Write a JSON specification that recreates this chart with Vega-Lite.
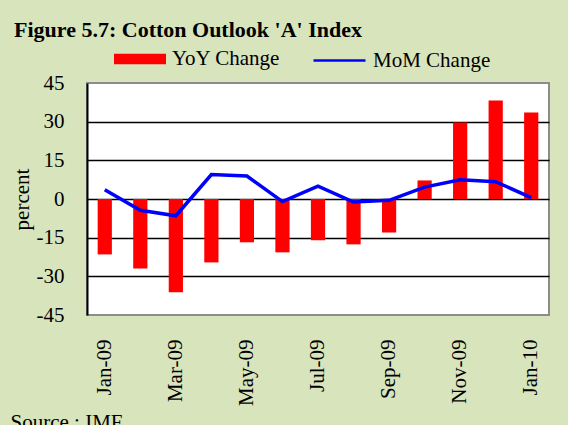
{
  "$schema": "https://vega.github.io/schema/vega-lite/v6.json",
  "autosize": {"type": "none"},
  "width": 462,
  "height": 232,
  "padding": {"left": 87, "top": 83, "right": 19, "bottom": 110},
  "background": "#D8E4BC",
  "config": {
    "font": "Liberation Serif",
    "view": {"fill": "#FFFFFF", "stroke": "#8C8C8C", "strokeWidth": 2},
    "axis": {"labelFont": "Liberation Serif", "titleFont": "Liberation Serif", "labelColor": "#000000", "titleColor": "#000000"},
    "legend": {"labelFont": "Liberation Serif", "labelColor": "#000000"}
  },
  "title": {
    "text": "Figure 5.7: Cotton Outlook 'A' Index",
    "anchor": "start",
    "frame": "group",
    "dx": -73,
    "dy": 26,
    "offset": 0,
    "fontSize": 22,
    "fontWeight": "bold",
    "font": "Liberation Serif",
    "color": "#000000",
    "baseline": "alphabetic"
  },
  "data": {
    "values": [
      {"month": "Jan-09", "yoy": -21.5, "mom": 3.6},
      {"month": "Feb-09", "yoy": -27.0, "mom": -4.4},
      {"month": "Mar-09", "yoy": -36.2, "mom": -6.5},
      {"month": "Apr-09", "yoy": -24.6, "mom": 9.5},
      {"month": "May-09", "yoy": -16.8, "mom": 8.9},
      {"month": "Jun-09", "yoy": -20.7, "mom": -1.0},
      {"month": "Jul-09", "yoy": -16.0, "mom": 5.0},
      {"month": "Aug-09", "yoy": -17.6, "mom": -1.2},
      {"month": "Sep-09", "yoy": -13.0, "mom": -0.5},
      {"month": "Oct-09", "yoy": 7.2, "mom": 4.6},
      {"month": "Nov-09", "yoy": 29.7, "mom": 7.5},
      {"month": "Dec-09", "yoy": 38.2, "mom": 6.7},
      {"month": "Jan-10", "yoy": 33.6, "mom": 0.5}
    ]
  },
  "encoding": {
    "x": {
      "field": "month",
      "type": "nominal",
      "sort": null,
      "scale": {"paddingInner": 0.6, "paddingOuter": 0.3},
      "axis": {
        "values": ["Jan-09", "Mar-09", "May-09", "Jul-09", "Sep-09", "Nov-09", "Jan-10"],
        "labelAngle": -90,
        "labelFontSize": 21,
        "labelPadding": 24,
        "labelOverlap": false,
        "ticks": false,
        "domain": false,
        "title": "Source : IMF",
        "titleFontSize": 21,
        "titleFontWeight": "normal",
        "titleX": -77,
        "titleY": 113,
        "titleAlign": "left",
        "titleAnchor": null,
        "titleBaseline": "alphabetic"
      }
    }
  },
  "layer": [
    {
      "mark": {"type": "bar"},
      "encoding": {
        "y": {
          "field": "yoy",
          "type": "quantitative",
          "scale": {"domain": [-45, 45], "nice": false},
          "axis": {
            "values": [-45, -30, -15, 0, 15, 30, 45],
            "tickCount": 20,
            "labelExpr": "toString(datum.value)",
            "labelOverlap": false,
            "grid": true,
            "gridColor": {"condition": {"test": "abs(datum.value) == 45", "value": "transparent"}, "value": "#000000"},
            "gridWidth": 1.5,
            "ticks": false,
            "domain": true,
            "domainColor": "#000000",
            "domainWidth": 2,
            "labelFontSize": 21,
            "labelPadding": 23,
            "title": "percent",
            "titleFontSize": 21,
            "titleFontWeight": "normal",
            "titleAngle": -90,
            "titleX": -59,
            "titleY": 116,
            "titleAlign": "center",
            "titleBaseline": "alphabetic"
          }
        },
        "fill": {
          "datum": "YoY Change",
          "scale": {"range": ["#FF0000"]},
          "legend": {
            "title": null,
            "orient": "none",
            "legendX": 27,
            "legendY": -50,
            "symbolType": "M-1,-0.2H1V0.2H-1Z",
            "symbolSize": 2704,
            "symbolStrokeWidth": 0,
            "labelFontSize": 21,
            "labelOffset": 6
          }
        }
      }
    },
    {
      "mark": {"type": "line", "strokeWidth": 3.5},
      "encoding": {
        "y": {"field": "mom", "type": "quantitative"},
        "stroke": {
          "datum": "MoM Change",
          "scale": {"range": ["#0000FF"]},
          "legend": {
            "title": null,
            "orient": "none",
            "legendX": 225,
            "legendY": -50,
            "symbolType": "M-1,0H1",
            "symbolSize": 2704,
            "symbolStrokeWidth": 2.5,
            "labelFontSize": 21,
            "labelOffset": 6
          }
        }
      }
    }
  ]
}
